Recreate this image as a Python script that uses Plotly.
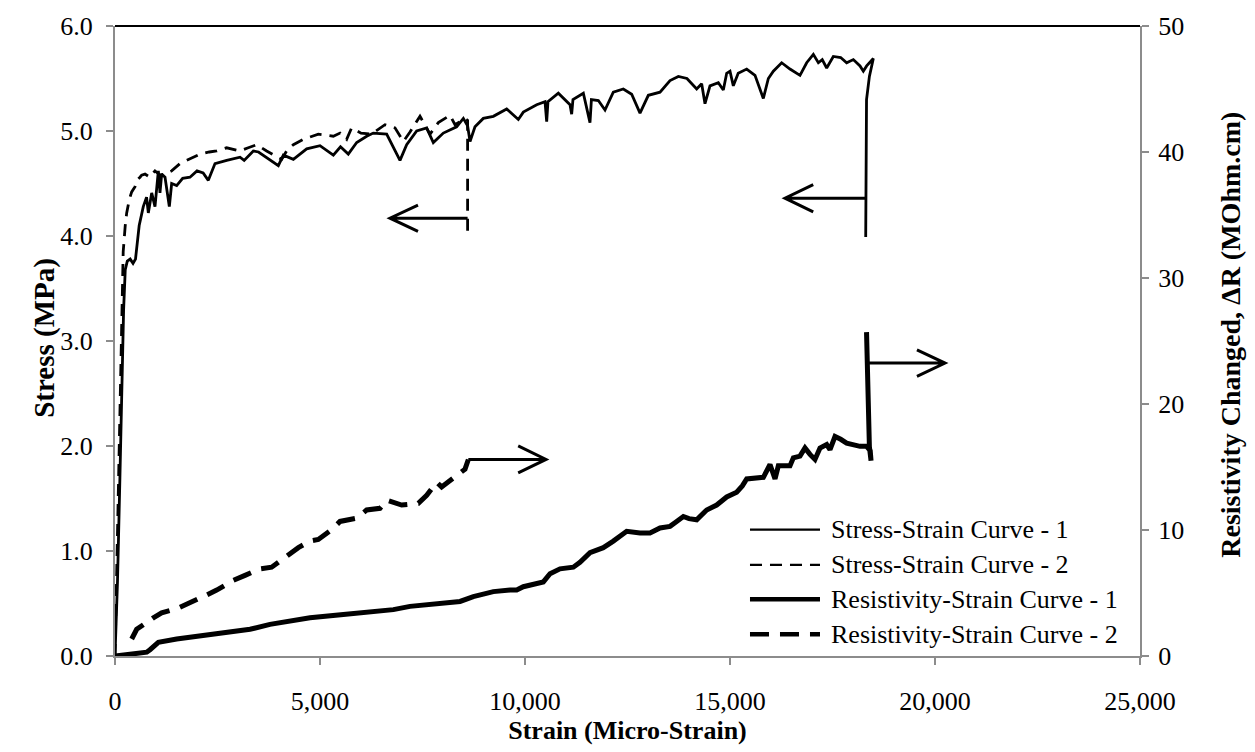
import plotly.graph_objects as go

# ---------------- data ----------------
stress1_strain = [0, 60, 120, 170, 210, 250, 300, 370, 440, 500, 590, 690, 770, 813, 895, 975,
                  1057, 1097, 1138, 1220, 1325, 1382, 1504, 1650, 1829, 2000, 2150, 2276, 2439,
                  2724, 3049, 3150, 3374, 3500, 3780, 3984, 4106, 4350, 4675, 5000, 5325, 5500,
                  5690, 5895, 6138, 6300, 6626, 6789, 6951, 7114, 7358, 7602, 7764, 8008, 8333,
                  8496, 8600, 8659, 8780, 8983, 9228, 9553, 9837, 9959, 10285, 10488, 10529,
                  10560, 10813, 11098, 11138, 11170, 11423, 11585, 11620, 11789, 11951, 12154,
                  12398, 12602, 12805, 13008, 13293, 13537, 13740, 13950, 14187, 14309, 14390,
                  14512, 14715, 14837, 14919, 15000, 15081, 15200, 15407, 15610, 15813, 15935,
                  16057, 16260, 16463, 16707, 16870, 17033, 17155, 17250, 17358, 17520, 17700,
                  17845, 18008, 18171, 18252, 18333, 18420, 18496, 18400, 18330, 18310]
stress1_mpa = [0.0, 0.7, 1.7, 2.6, 3.3, 3.68, 3.76, 3.78, 3.74, 3.78, 4.10, 4.28, 4.37, 4.22,
               4.41, 4.28, 4.62, 4.41, 4.59, 4.56, 4.28, 4.50, 4.48, 4.55, 4.56, 4.62, 4.60,
               4.53, 4.69, 4.72, 4.75, 4.72, 4.81, 4.80, 4.72, 4.67, 4.77, 4.73, 4.83, 4.86,
               4.77, 4.85, 4.78, 4.89, 4.95, 4.98, 4.97, 4.84, 4.72, 4.87, 5.00, 5.03, 4.89,
               4.98, 5.04, 5.12, 5.05, 4.90, 5.04, 5.12, 5.14, 5.21, 5.11, 5.18, 5.25, 5.28,
               5.09, 5.28, 5.36, 5.25, 5.16, 5.30, 5.36, 5.08, 5.30, 5.29, 5.20, 5.37, 5.40,
               5.35, 5.17, 5.34, 5.37, 5.48, 5.52, 5.50, 5.40, 5.45, 5.26, 5.43, 5.46, 5.39,
               5.55, 5.57, 5.43, 5.55, 5.59, 5.53, 5.31, 5.50, 5.57, 5.65, 5.59, 5.53, 5.65,
               5.73, 5.65, 5.68, 5.60, 5.71, 5.70, 5.65, 5.68, 5.62, 5.57, 5.62, 5.66, 5.69,
               5.52, 5.30, 3.99]

stress2_strain = [0, 40, 90, 130, 170, 200, 250, 285, 350, 407, 488, 530, 610, 650, 732, 850,
                  975, 1100, 1220, 1382, 1585, 1789, 2073, 2300, 2480, 2724, 3049, 3250, 3455,
                  3699, 3900, 4065, 4200, 4350, 4593, 4959, 5325, 5488, 5650, 5772, 6000, 6250,
                  6585, 6829, 7033, 7195, 7439, 7683, 7886, 8171, 8293, 8537, 8600, 8600]
stress2_mpa = [0.0, 0.8, 2.0, 2.8, 3.5, 3.85, 4.10, 4.22, 4.35, 4.42, 4.47, 4.53, 4.56, 4.58,
               4.59, 4.56, 4.62, 4.58, 4.59, 4.62, 4.69, 4.73, 4.78, 4.80, 4.81, 4.84, 4.81,
               4.84, 4.87, 4.81, 4.77, 4.73, 4.82, 4.87, 4.92, 4.97, 4.95, 4.98, 4.92, 5.03,
               4.98, 4.97, 5.06, 5.03, 4.90, 4.99, 5.14, 4.97, 5.08, 5.15, 5.06, 5.12, 5.10,
               4.00]

resist1_strain = [0, 300, 600, 773, 854, 1000, 1057, 1504, 2000, 2317, 2724, 3293, 3780, 4756,
                  5569, 6789, 7195, 8415, 8740, 9228, 9634, 9797, 9959, 10447, 10610, 10854,
                  11179, 11341, 11585, 11910, 12154, 12398, 12480, 12805, 13049, 13293, 13537,
                  13699, 13862, 14000, 14187, 14431, 14675, 14919, 15163, 15300, 15407, 15813,
                  15976, 16098, 16179, 16463, 16545, 16707, 16829, 16951, 17073, 17195, 17358,
                  17439, 17561, 17700, 17845, 18171, 18333, 18420, 18440, 18400, 18330]
resist1_mohm = [0.0, 0.1, 0.2, 0.3, 0.5, 1.0, 1.09, 1.35, 1.55, 1.73, 1.87, 2.12, 2.51, 3.03,
                3.29, 3.68, 3.94, 4.33, 4.72, 5.11, 5.23, 5.23, 5.50, 5.88, 6.53, 6.92, 7.05,
                7.44, 8.20, 8.60, 9.12, 9.77, 9.90, 9.77, 9.77, 10.16, 10.29, 10.68, 11.07,
                10.90, 10.81, 11.59, 11.98, 12.62, 13.00, 13.50, 14.05, 14.18, 15.20, 14.05,
                15.09, 15.09, 15.73, 15.86, 16.51, 16.00, 15.60, 16.50, 16.78, 16.38, 17.42,
                17.20, 16.90, 16.64, 16.64, 16.30, 15.50, 16.60, 25.70]

resist2_strain = [407, 529, 935, 1138, 1545, 1829, 2236, 2480, 2886, 3171, 3537, 3821, 4187,
                  4472, 4756, 4959, 5285, 5488, 5894, 6138, 6463, 6626, 6992, 7398, 7602, 7846,
                  7967, 8171, 8293, 8537, 8618]
resist2_mohm = [1.35, 2.12, 3.03, 3.42, 3.81, 4.20, 4.84, 5.23, 6.00, 6.40, 6.92, 7.05, 7.96,
                8.60, 9.12, 9.25, 10.03, 10.68, 10.94, 11.59, 11.72, 12.36, 11.98, 12.11, 12.75,
                13.79, 13.41, 13.92, 14.18, 14.83, 15.60]

series_names = ["Stress-Strain Curve - 1", "Stress-Strain Curve - 2",
                "Resistivity-Strain Curve - 1", "Resistivity-Strain Curve - 2"]

x_ticks = [0, 5000, 10000, 15000, 20000, 25000]
y_ticks = [0, 1, 2, 3, 4, 5, 6]
y2_ticks = [0, 10, 20, 30, 40, 50]

# ---------------- style ----------------
FONT = "Liberation Serif, Times New Roman, serif"
AXIS_GRAY = "#8c8c8c"
styles = [
    dict(width=2.8, dash="solid"),
    dict(width=2.8, dash="12px,8px"),
    dict(width=5, dash="solid"),
    dict(width=5, dash="19px,11px"),
]

fig = go.Figure()
fig.add_trace(go.Scatter(x=stress1_strain, y=stress1_mpa, mode="lines", name=series_names[0],
                         line=dict(color="black", **styles[0]), showlegend=False))
fig.add_trace(go.Scatter(x=stress2_strain, y=stress2_mpa, mode="lines", name=series_names[1],
                         line=dict(color="black", **styles[1]), showlegend=False))
fig.add_trace(go.Scatter(x=resist1_strain, y=resist1_mohm, mode="lines", name=series_names[2],
                         yaxis="y2", line=dict(color="black", **styles[2]), showlegend=False))
fig.add_trace(go.Scatter(x=resist2_strain, y=resist2_mohm, mode="lines", name=series_names[3],
                         yaxis="y2", line=dict(color="black", **styles[3]), showlegend=False))

# ---------------- arrows (annotation geometry in data units) ----------------
# (tail x, tip x, y, head-base x, head half-height, y axis ref)
arrows = [
    (8600, 6707, 4.17, 7390, 0.125, "y"),
    (18300, 16341, 4.36, 17030, 0.13, "y"),
    (8618, 10512, 15.6, 9834, 1.07, "y2"),
    (18340, 20244, 23.25, 19560, 1.05, "y2"),
]
shapes = []
for tail, tip, yy, hb, hh, yr in arrows:
    path = f"M{tail},{yy} L{tip},{yy} M{hb},{yy + hh} L{tip},{yy} L{hb},{yy - hh}"
    shapes.append(dict(type="path", xref="x", yref=yr, path=path,
                       line=dict(color="black", width=3)))

# top border of plot area
shapes.append(dict(type="line", xref="paper", yref="paper", x0=0, x1=1, y0=1, y1=1,
                   line=dict(color="black", width=2)))

# ---------------- manual legend ----------------
legend_rows_y = [0.2006, 0.1446, 0.0902, 0.0347]
annotations = []
for name, st, ly in zip(series_names, styles, legend_rows_y):
    shapes.append(dict(type="line", xref="paper", yref="paper", x0=0.6195, x1=0.6878,
                       y0=ly, y1=ly, line=dict(color="black", width=st["width"] - 0.5,
                                               dash=st["dash"])))
    annotations.append(dict(xref="paper", yref="paper", x=0.6966, y=ly, text=name,
                            showarrow=False, xanchor="left", yanchor="middle",
                            font=dict(family=FONT, size=26, color="black")))

# rotated axis titles
annotations.append(dict(xref="paper", yref="paper", x=-0.0683, y=0.505,
                        text="<b>Stress (MPa)</b>", textangle=-90, showarrow=False,
                        xanchor="center", yanchor="middle",
                        font=dict(family=FONT, size=29, color="black")))
annotations.append(dict(xref="paper", yref="paper", x=1.0888, y=0.51,
                        text="<b>Resistivity Changed, ΔR (MOhm.cm)</b>", textangle=-90,
                        showarrow=False, xanchor="center", yanchor="middle",
                        font=dict(family=FONT, size=28, color="black")))

fig.update_layout(
    width=1255, height=752,
    margin=dict(l=115, r=115, t=16, b=93),
    paper_bgcolor="white", plot_bgcolor="white",
    font=dict(family=FONT, size=26, color="black"),
    showlegend=False,
    shapes=shapes,
    annotations=annotations,
    xaxis=dict(range=[0, 25000], tickvals=x_ticks, tickformat=",d",
               showgrid=False, zeroline=False, showline=True, linecolor=AXIS_GRAY, linewidth=2,
               ticks="outside", ticklen=7, tickwidth=2, tickcolor=AXIS_GRAY,
               ticklabelstandoff=14,
               tickfont=dict(family=FONT, size=26, color="black"),
               title=dict(text="<b>Strain (Micro-Strain)</b>", standoff=6,
                          font=dict(family=FONT, size=26, color="black"))),
    yaxis=dict(range=[0, 6], tickvals=y_ticks, tickformat=".1f",
               showgrid=False, zeroline=False, showline=True, linecolor=AXIS_GRAY, linewidth=2,
               ticks="outside", ticklen=7, tickwidth=2, tickcolor=AXIS_GRAY,
               ticklabelstandoff=8,
               tickfont=dict(family=FONT, size=26, color="black")),
    yaxis2=dict(range=[0, 50], tickvals=y2_ticks, overlaying="y", side="right",
                showgrid=False, zeroline=False, showline=True, linecolor=AXIS_GRAY, linewidth=2,
                ticks="outside", ticklen=7, tickwidth=2, tickcolor=AXIS_GRAY,
                ticklabelstandoff=4,
                tickfont=dict(family=FONT, size=26, color="black")),
)

fig.write_html("out.html")
